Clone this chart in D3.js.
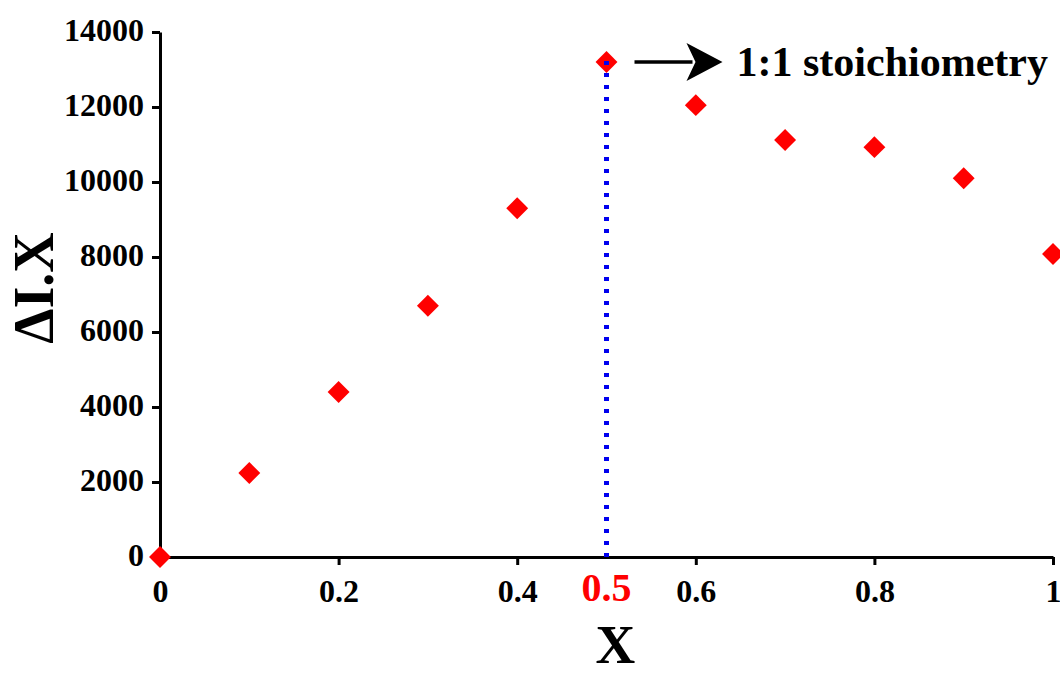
<!DOCTYPE html>
<html>
<head>
<meta charset="utf-8">
<script src="https://cdn.jsdelivr.net/npm/d3@7"></script>
<style>
  body { margin: 0; background: #fff; }
  text { font-family: "Liberation Serif", "Times New Roman", serif; font-weight: bold; }
</style>
</head>
<body>
<div id="chart"></div>
<script>
// data
const xValues = [0, 0.1, 0.2, 0.3, 0.4, 0.5, 0.6, 0.7, 0.8, 0.9, 1];
const dIValues = [0, 2240, 4400, 6700, 9300, 13200, 12050, 11120, 10930, 10100, 8080];
const xTicks = [0, 0.2, 0.4, 0.6, 0.8, 1];
const yTicks = [0, 2000, 4000, 6000, 8000, 10000, 12000, 14000];
const stoichX = 0.5;
const stoichLabel = "1:1 stoichiometry";

const width = 1060, height = 675;
const margin = {top: 32, right: 7, bottom: 118, left: 160};

let svg = d3.select("#chart").append("svg")
  .attr("width", width)
  .attr("height", height);

let x = d3.scaleLinear().domain([0, 1]).range([margin.left, width - margin.right]);
let y = d3.scaleLinear().domain([0, 14000]).range([height - margin.bottom, margin.top]);

// x axis
let gx = svg.append("g")
  .attr("transform", "translate(0," + y(0) + ")")
  .call(d3.axisBottom(x).tickValues(xTicks).tickSize(8).tickPadding(14).tickSizeOuter(0)
    .tickFormat(d => d === 0 ? "0" : d === 1 ? "1" : d3.format(".1f")(d)));
gx.select(".domain").attr("stroke-width", 3).attr("stroke", "#000");
gx.selectAll(".tick line").attr("stroke-width", 3).attr("stroke", "#000");
gx.selectAll(".tick text").attr("font-size", 32).attr("fill", "#000")
  .attr("font-family", "Liberation Serif").attr("font-weight", "bold");

// y axis
let gy = svg.append("g")
  .attr("transform", "translate(" + x(0) + ",0)")
  .call(d3.axisLeft(y).tickValues(yTicks).tickSize(8).tickPadding(8).tickSizeOuter(0)
    .tickFormat(d3.format("d")));
gy.select(".domain").attr("stroke-width", 3).attr("stroke", "#000");
gy.selectAll(".tick line").attr("stroke-width", 3).attr("stroke", "#000");
gy.selectAll(".tick text").attr("font-size", 32).attr("fill", "#000").attr("dy", "0.28em")
  .attr("font-family", "Liberation Serif").attr("font-weight", "bold");

// red 0.5 label under the axis
svg.append("text")
  .attr("x", x(stoichX))
  .attr("y", y(0) + 44)
  .attr("text-anchor", "middle")
  .attr("font-size", 40)
  .attr("fill", "#ff0000")
  .text("0.5");

// axis titles
svg.append("text")
  .attr("x", x(0.51))
  .attr("y", 663)
  .attr("text-anchor", "middle")
  .attr("font-size", 55)
  .text("X");

svg.append("text")
  .attr("transform", "translate(53," + 288 + ") rotate(-90)")
  .attr("text-anchor", "middle")
  .attr("font-size", 56)
  .text("\u0394I.X");

// points
svg.append("g")
  .selectAll("path")
  .data(xValues)
  .enter()
  .append("path")
    .attr("d", d3.symbol().type(d3.symbolSquare).size(240))
    .attr("transform", (d, i) => "translate(" + x(d) + "," + y(dIValues[i]) + ") rotate(45)")
    .attr("fill", "#ff0000");

// dotted line at 1:1 point
let peak = dIValues[xValues.indexOf(stoichX)];
svg.append("line")
  .attr("x1", x(stoichX)).attr("x2", x(stoichX))
  .attr("y1", y(0)).attr("y2", y(peak) - 6)
  .attr("stroke", "#0000ee")
  .attr("stroke-width", 5)
  .attr("stroke-dasharray", "4,8");

// arrow + label
let ay = y(peak);
let ax0 = x(stoichX) + 28, ax1 = x(stoichX) + 116;
svg.append("line")
  .attr("x1", ax0).attr("x2", ax1 - 30)
  .attr("y1", ay).attr("y2", ay)
  .attr("stroke", "#000").attr("stroke-width", 3.5);
svg.append("path")
  .attr("d", "M" + ax1 + "," + ay + " L" + (ax1 - 36) + "," + (ay - 19) +
    " L" + (ax1 - 27) + "," + ay + " L" + (ax1 - 36) + "," + (ay + 19) + " Z")
  .attr("fill", "#000");

svg.append("text")
  .attr("x", ax1 + 14)
  .attr("y", ay + 14)
  .attr("font-size", 42)
  .text(stoichLabel);
</script>
</body>
</html>
